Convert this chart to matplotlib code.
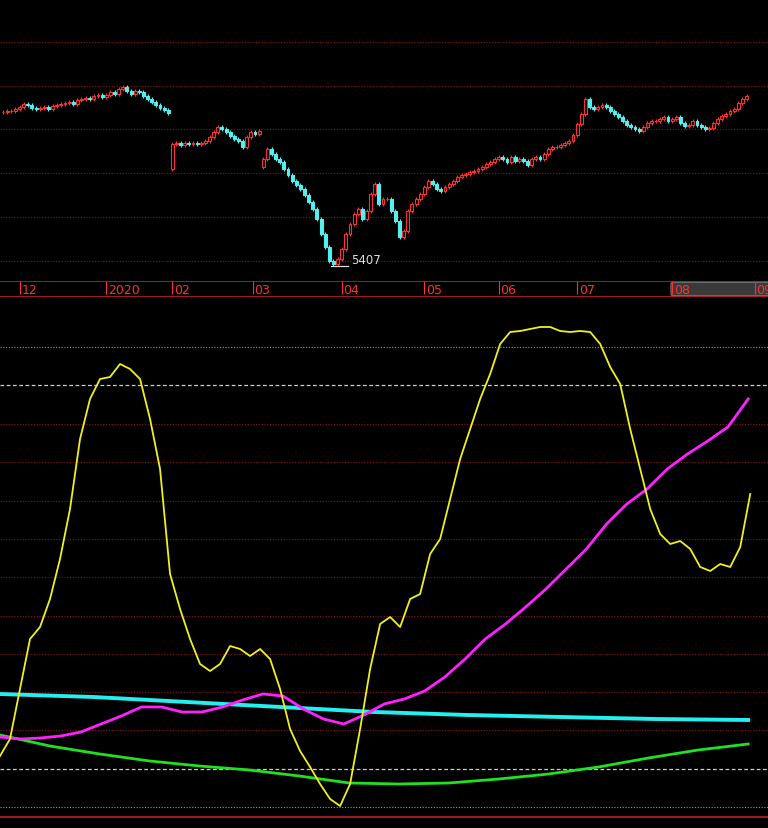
import numpy as np
import matplotlib
matplotlib.use("Agg")
import matplotlib.pyplot as plt
from matplotlib.patches import Rectangle, FancyBboxPatch

# ---------------- data ----------------
closes = [6182,6187,6187,6197,
    6207,6222,6217,6202,6197,6202,6207,6197,6212,6217,6222,6227,6232,6222,6242,6247,6252,6247,6262,6267,6257,
    6267,6282,6272,6297,6307,6287,6272,6287,6282,6262,6247,6232,6217,6202,6192,6177,
    6022,6027,6017,6027,6022,6027,6022,6027,6037,6057,6082,6107,6097,6082,6062,6047,6037,6007,6057,6082,
    6072,6087,5947,5997,5972,5947,5932,5897,5867,5837,5817,5797,5767,5732,5697,5647,5572,5507,5437,5422,5447,
    5497,5572,5622,5672,5697,5647,5687,5772,5822,5722,5747,5747,5687,5637,5557,5587,5687,5722,5747,5772,
    5807,5837,5822,5797,5787,5807,5822,5837,5857,5867,5872,5882,5887,5897,5907,5922,5932,5947,
    5957,5947,5932,5957,5937,5947,5937,5917,5947,5957,5947,5972,5997,6007,6007,6017,6027,6037,6067,
    6122,6172,6247,6207,6197,6207,6217,6207,6187,6172,6157,6137,6117,6107,6097,6087,6107,6127,6137,6137,6147,6157,6137,
    6147,6157,6127,6112,6117,6137,6117,6107,6097,6102,6127,6147,6162,6172,6187,6197,6227,6247,6262]
gap_opens = {41: 5897, 63: 5907}
low_label = "5407"
month_labels = ["12", "2020", "02", "03", "04", "05", "06", "07", "08", "09"]
month_pos = [4, 25, 41, 60.5, 82, 102, 120, 139, 162, 182]

yellow = [13,30,80,130,142,170,210,260,330,370,390,392,405,400,390,350,300,195,160,130,
          105,98,105,123,120,113,120,110,80,40,18,2,-15,-30,-37,-15,40,100,145,152,
          142,170,175,215,230,270,310,340,370,395,425,437,438,440,442,442,438,437,438,437,
          425,402,385,340,300,260,235,225,228,220,202,198,205,202,222,275]
magenta = [32,30,31,33,37,45,53,62,62,57,57,62,69,75,73,60,50,45,54,65,70,78,92,110,
           130,145,162,180,200,220,245,265,280,300,315,328,342,370]
cyan = [75,72,67,62,57,54,52,50,49]
green = [34,23,15,8,3,-1,-7,-14,-15,-14,-10,-5,2,11,19,25]

# ---------------- figure ----------------
W, H = 768, 829
fig = plt.figure(figsize=(W/100, H/100), dpi=100, facecolor="black")
def px(x0, y0, w, h):
    return [x0/W, 1-(y0+h)/H, w/W, h/H]

x0i, x1i = -0.73, 185.2
RED = "#ff3030"
CYAN = "#54f0f0"
GRID = "#8a1515"

# top panel
ax = fig.add_axes(px(0, 0, W, 282))
ax.set_facecolor("black")
ax.set_xlim(x0i, x1i)
ax.set_ylim(6747-5*282, 6747)
for g in [6532, 6312, 6097, 5877, 5657, 5437]:
    ax.axhline(g, color=GRID, lw=0.8, ls=(0, (1, 1.5)), zorder=0)
n = len(closes)
idx = np.arange(n)
for i in range(n):
    c = closes[i]
    o = gap_opens.get(i, closes[i-1] if i > 0 else c)
    hi, lo = max(o, c), min(o, c)
    up = c >= o
    col = RED if up else CYAN
    ax.vlines(i, lo - 8, hi + 8, color=col, lw=0.8, zorder=2)
    h = max(hi - lo, 2)
    ax.add_patch(Rectangle((i-0.35, lo), 0.7, h, facecolor="black" if up else CYAN,
                           edgecolor=col, lw=0.8, zorder=3))
imin = int(np.argmin(closes))
lowv = min(closes) - 10
ax.plot([imin-0.6, imin+3.5], [lowv, lowv], color="#dddddd", lw=0.9)
ax.text(imin+4.3, lowv, low_label, color="#dddddd", fontsize=8.5, va="bottom", ha="left")
ax.axis("off")

# date strip
sx = fig.add_axes(px(0, 282, W, 16))
sx.set_facecolor("black")
sx.set_xlim(x0i, x1i)
sx.set_ylim(0, 1)
sx.add_patch(FancyBboxPatch((month_pos[8]-0.3, 0.08), 30, 0.84,
             boxstyle="round,pad=0,rounding_size=0.8", facecolor="#3a3a3a",
             edgecolor="#777777", lw=0.8, mutation_aspect=0.1))
for p, lab in zip(month_pos, month_labels):
    sx.vlines(p, 0.2, 1, color=RED, lw=0.8)
    sx.text(p+0.4, 0.45, lab, color=RED, fontsize=9, va="center", ha="left")
sx.axhline(0.98, color="#c02020", lw=1.2)
sx.axhline(0.02, color="#c02020", lw=1.2)
sx.axis("off")

# bottom panel
bx = fig.add_axes(px(0, 298, W, 531))
bx.set_facecolor("black")
bx.set_xlim(x0i, x1i)
bx.set_ylim(770-829, 770-298)
for g in [345, 307, 268, 230, 192, 153, 115, 77, 39]:
    bx.axhline(g, color=GRID, lw=0.8, ls=(0, (1, 1.5)), zorder=0)
for g in [422, -38]:
    bx.axhline(g, color="#b09a30", lw=0.8, ls=(0, (1, 1.5)), zorder=0)
for g in [384, 0]:
    bx.axhline(g, color="#cccccc", lw=0.9, ls=(0, (3, 2)), zorder=0)
bx.axhline(-48, color="#c02020", lw=1.2)
end = 180.4
bx.plot(np.linspace(x0i, end, len(cyan)), cyan, color="#20f0f0", lw=2.8, zorder=2)
bx.plot(np.linspace(x0i, end, len(green)), green, color="#20e020", lw=2.0, zorder=2)
bx.plot(np.linspace(x0i, end, len(magenta)), magenta, color="#ff20ff", lw=2.0, zorder=3)
bx.plot(np.linspace(x0i, 180.9, len(yellow)), yellow, color="#f0f020", lw=1.3, zorder=4)
bx.axis("off")

fig.savefig("out.png", dpi=100, facecolor="black")
